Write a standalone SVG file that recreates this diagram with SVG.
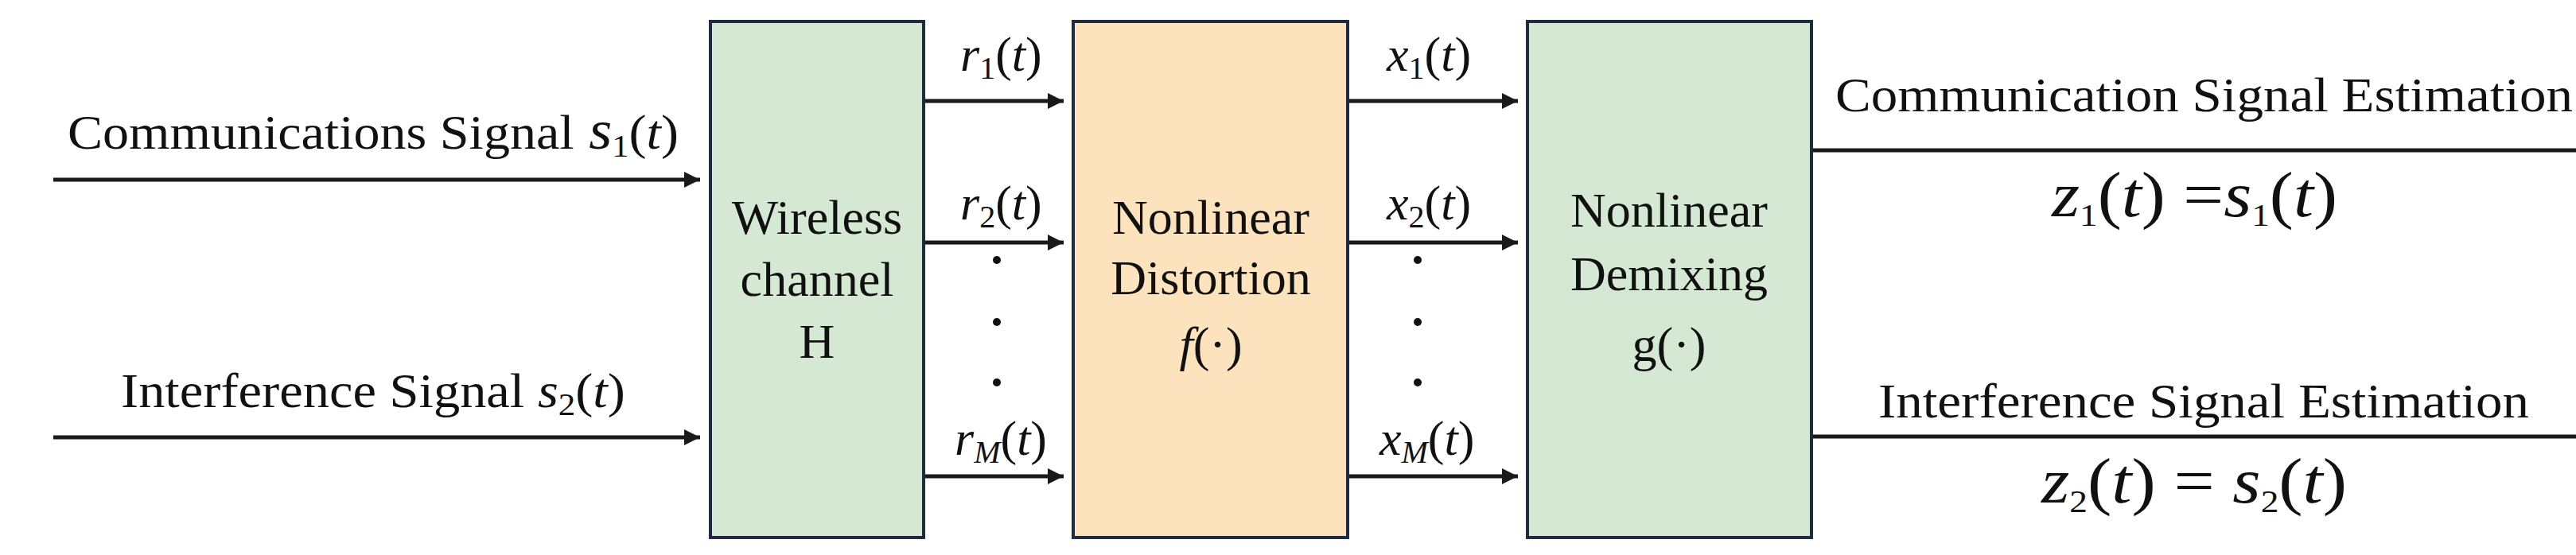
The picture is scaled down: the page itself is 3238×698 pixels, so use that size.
<svg xmlns="http://www.w3.org/2000/svg" width="3238" height="698" viewBox="0 0 3238 698">
<defs>
<marker id="ah" viewBox="0 0 10 10" refX="10" refY="5" markerWidth="4" markerHeight="4" orient="auto" markerUnits="strokeWidth"><path d="M0,0 L10,5 L0,10 z" fill="#1a1a1a"/></marker>
<style>
text{font-family:"Liberation Serif","Times New Roman",serif;fill:#111;font-size:62px}
.i{font-style:italic}
.s{font-size:40px}
.big{font-size:80px}
.box{stroke:#1f2a44;stroke-width:4}
.ln{stroke:#1a1a1a;stroke-width:5;fill:none}
.c{text-anchor:middle}
</style>
</defs>
<rect width="3238" height="698" fill="#fff"/>
<g id="n-channel"><rect class="box" x="893" y="27" width="268" height="649" fill="#d5e8d4"/>
<text class="c" x="1027" y="294">Wireless</text><text class="c" x="1027" y="372">channel</text><text class="c" x="1027" y="450">H</text></g>
<g id="n-distortion"><rect class="box" x="1349" y="27" width="345" height="649" fill="#fde3bd"/>
<text class="c" x="1522" y="294">Nonlinear</text><text class="c" x="1522" y="370">Distortion</text><text class="c" x="1522" y="454"><tspan class="i">f</tspan>(·)</text></g>
<g id="n-demixing"><rect class="box" x="1920" y="27" width="357" height="649" fill="#d5e8d4"/>
<text class="c" x="2098" y="285">Nonlinear</text><text class="c" x="2098" y="365">Demixing</text><text class="c" x="2098" y="454">g(·)</text></g>
<g id="connectors">
<path class="ln" d="M67 226H880" marker-end="url(#ah)"/>
<path class="ln" d="M67 550H880" marker-end="url(#ah)"/>
<path class="ln" d="M1163 127H1337" marker-end="url(#ah)"/>
<path class="ln" d="M1163 305H1337" marker-end="url(#ah)"/>
<path class="ln" d="M1163 599H1337" marker-end="url(#ah)"/>
<path class="ln" d="M1696 127H1908" marker-end="url(#ah)"/>
<path class="ln" d="M1696 305H1908" marker-end="url(#ah)"/>
<path class="ln" d="M1696 599H1908" marker-end="url(#ah)"/>
<path class="ln" d="M2279 189H3238"/>
<path class="ln" d="M2279 549H3238"/>
</g>
<g id="labels">
<text x="85" y="187" textLength="768" lengthAdjust="spacingAndGlyphs">Communications Signal<tspan class="i" font-size="70"> s</tspan><tspan class="s" dy="10">1</tspan><tspan dy="-10">(</tspan><tspan class="i">t</tspan>)</text>
<text x="152" y="512" textLength="634" lengthAdjust="spacingAndGlyphs">Interference Signal<tspan class="i"> s</tspan><tspan class="s" dy="10">2</tspan><tspan dy="-10">(</tspan><tspan class="i">t</tspan>)</text>
<text x="1207" y="89"><tspan class="i">r</tspan><tspan class="s" dy="10">1</tspan><tspan dy="-10">(</tspan><tspan class="i">t</tspan>)</text>
<text x="1207" y="276"><tspan class="i">r</tspan><tspan class="s" dy="10">2</tspan><tspan dy="-10">(</tspan><tspan class="i">t</tspan>)</text>
<text x="1200" y="572"><tspan class="i">r</tspan><tspan class="s i" dy="10">M</tspan><tspan dy="-10">(</tspan><tspan class="i">t</tspan>)</text>
<text x="1743" y="89"><tspan class="i">x</tspan><tspan class="s" dy="10">1</tspan><tspan dy="-10">(</tspan><tspan class="i">t</tspan>)</text>
<text x="1743" y="276"><tspan class="i">x</tspan><tspan class="s" dy="10">2</tspan><tspan dy="-10">(</tspan><tspan class="i">t</tspan>)</text>
<text x="1734" y="572"><tspan class="i">x</tspan><tspan class="s i" dy="10">M</tspan><tspan dy="-10">(</tspan><tspan class="i">t</tspan>)</text>
<circle cx="1253" cy="327" r="5" fill="#111"/><circle cx="1253" cy="405" r="5" fill="#111"/><circle cx="1253" cy="481" r="5" fill="#111"/>
<circle cx="1782" cy="327" r="5" fill="#111"/><circle cx="1782" cy="405" r="5" fill="#111"/><circle cx="1782" cy="481" r="5" fill="#111"/>
<text x="2307" y="140" textLength="927" lengthAdjust="spacingAndGlyphs">Communication Signal Estimation</text>
<text x="2361" y="525" textLength="818" lengthAdjust="spacingAndGlyphs">Interference Signal Estimation</text>
<text class="big" x="2579" y="272" textLength="359" lengthAdjust="spacingAndGlyphs"><tspan class="i">z</tspan><tspan class="s" dy="12">1</tspan><tspan dy="-12">(</tspan><tspan class="i">t</tspan>) =<tspan class="i">s</tspan><tspan class="s" dy="12">1</tspan><tspan dy="-12">(</tspan><tspan class="i">t</tspan>)</text>
<text class="big" x="2566" y="632" textLength="384" lengthAdjust="spacingAndGlyphs"><tspan class="i">z</tspan><tspan class="s" dy="12">2</tspan><tspan dy="-12">(</tspan><tspan class="i">t</tspan>)  = <tspan class="i">s</tspan><tspan class="s" dy="12">2</tspan><tspan dy="-12">(</tspan><tspan class="i">t</tspan>)</text>
</g>
</svg>
